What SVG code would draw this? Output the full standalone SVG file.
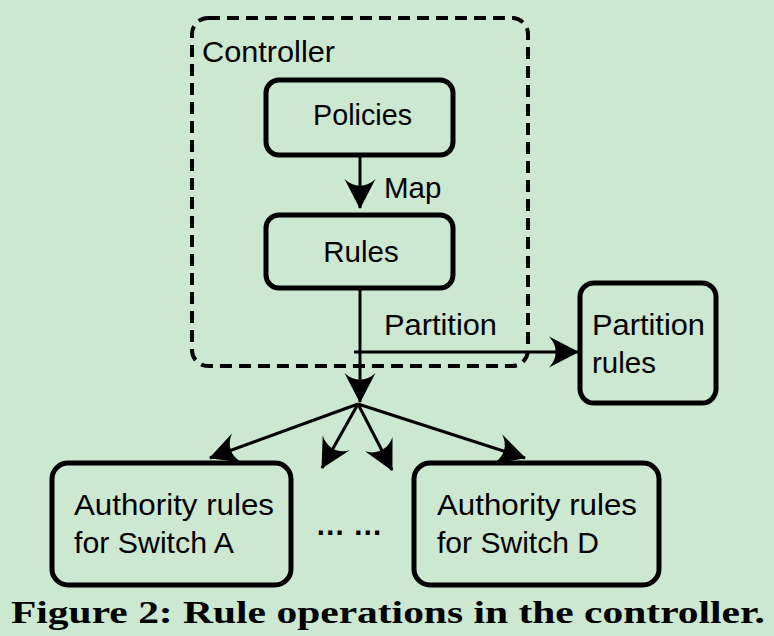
<svg xmlns="http://www.w3.org/2000/svg" width="774" height="636" viewBox="0 0 774 636">
<style>
.box{fill:none;stroke:#000;stroke-width:5}
.lbl{font-family:"Liberation Sans",Arial,sans-serif;font-size:29.5px;fill:#000}
.ln{fill:none;stroke:#000;stroke-width:3}
.cap{font-family:"Liberation Serif","Times New Roman",serif;font-weight:bold;font-size:31px;fill:#000}
</style>
<defs>
<marker id="ah" viewBox="-29 -16 30 32" refX="0" refY="0" markerWidth="30" markerHeight="32" markerUnits="userSpaceOnUse" orient="auto">
<path d="M1,0 L-29,-15.5 C-20,-6 -20,6 -29,15.5 Z" fill="#000"/>
</marker>
</defs>
<rect width="774" height="636" fill="#cde8d0"/>
<g id="controller">
<rect x="192" y="18" width="336" height="348" rx="16" fill="none" stroke="#000" stroke-width="4" stroke-dasharray="12 7"/>
<text class="lbl" x="202" y="62" textLength="133" lengthAdjust="spacingAndGlyphs">Controller</text>
</g>
<g id="policies">
<rect class="box" x="266" y="80" width="187" height="75" rx="13"/>
<text class="lbl" x="313" y="125" textLength="99" lengthAdjust="spacingAndGlyphs">Policies</text>
</g>
<g id="rules">
<rect class="box" x="266" y="215" width="187" height="73" rx="13"/>
<text class="lbl" x="361" y="262" text-anchor="middle">Rules</text>
</g>
<g id="partition-rules">
<rect class="box" x="580" y="283" width="136" height="120" rx="14"/>
<text class="lbl" x="592" y="335" textLength="113" lengthAdjust="spacingAndGlyphs">Partition</text>
<text class="lbl" x="592" y="373">rules</text>
</g>
<g id="switch-a">
<rect class="box" x="52" y="463" width="239" height="122" rx="16"/>
<text class="lbl" x="74" y="515" textLength="200" lengthAdjust="spacingAndGlyphs">Authority rules</text>
<text class="lbl" x="74" y="553" textLength="160" lengthAdjust="spacingAndGlyphs">for Switch A</text>
</g>
<g id="switch-d">
<rect class="box" x="414" y="463" width="245" height="122" rx="16"/>
<text class="lbl" x="437" y="515" textLength="200" lengthAdjust="spacingAndGlyphs">Authority rules</text>
<text class="lbl" x="437" y="553" textLength="162" lengthAdjust="spacingAndGlyphs">for Switch D</text>
</g>
<g id="connectors">
<line class="ln" x1="360" y1="155" x2="360" y2="208" marker-end="url(#ah)"/>
<text class="lbl" x="384" y="198">Map</text>
<line class="ln" x1="360" y1="288" x2="360" y2="402" marker-end="url(#ah)"/>
<line class="ln" x1="354" y1="352" x2="578" y2="352" marker-end="url(#ah)"/>
<text class="lbl" x="384" y="335" textLength="113" lengthAdjust="spacingAndGlyphs">Partition</text>
<line class="ln" x1="358" y1="404" x2="210" y2="458" marker-end="url(#ah)"/>
<line class="ln" x1="358" y1="404" x2="322" y2="468" marker-end="url(#ah)"/>
<line class="ln" x1="358" y1="404" x2="392" y2="470" marker-end="url(#ah)"/>
<line class="ln" x1="358" y1="404" x2="525" y2="458" marker-end="url(#ah)"/>
<text class="lbl" x="349" y="535" text-anchor="middle" font-weight="bold">… …</text>
</g>
<text class="cap" x="11" y="623" textLength="754" lengthAdjust="spacingAndGlyphs">Figure 2: Rule operations in the controller.</text>
</svg>
